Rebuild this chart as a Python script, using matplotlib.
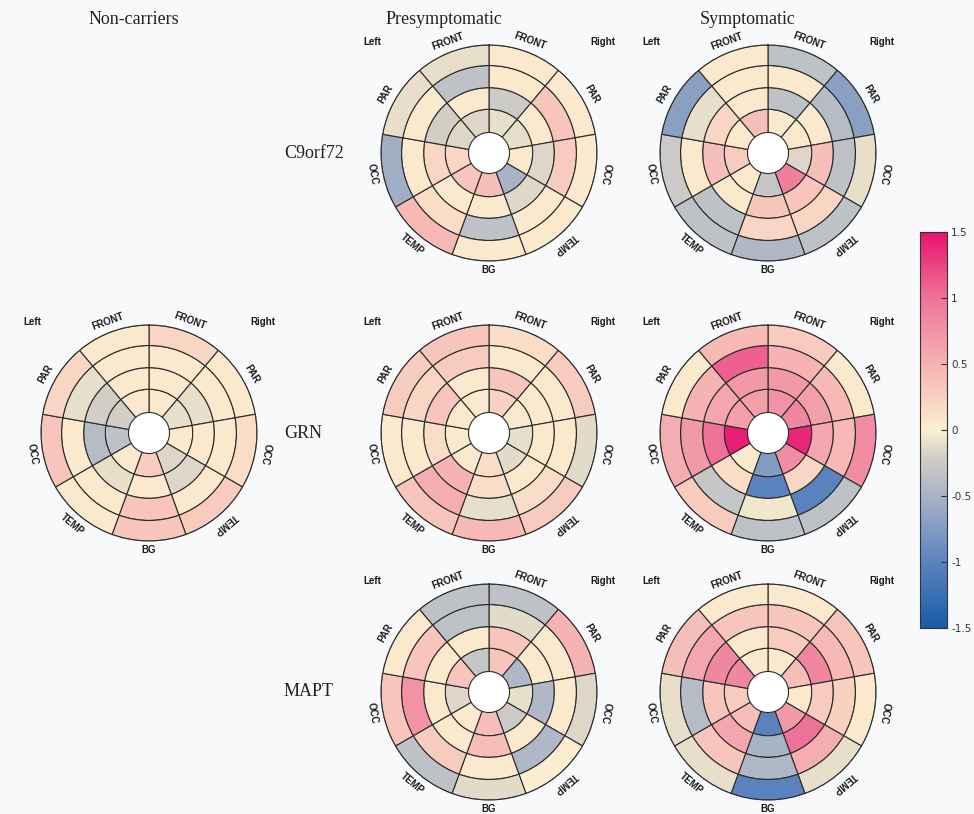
import numpy as np
import matplotlib
matplotlib.use('Agg')
from matplotlib import pyplot as plt
from matplotlib.colors import LinearSegmentedColormap, Normalize
from matplotlib.cm import ScalarMappable

# sectors clockwise from 12 o'clock; each row of a disc = values inner ring -> outer ring
sector_names = ['FRONT', 'PAR', 'OCC', 'TEMP', 'BG', 'TEMP', 'OCC', 'PAR', 'FRONT']
sector_ids = ['FRONT R', 'PAR R', 'OCC R', 'TEMP R', 'BG', 'TEMP L', 'OCC L', 'PAR L', 'FRONT L']

pre_c9 = [[-0.1, -0.25, 0.05, 0.05],
          [-0.1, 0.05, 0.35, 0.05],
          [0.05, -0.15, 0.3, 0.05],
          [-0.5, -0.15, 0.05, 0.05],
          [0.4, 0.05, -0.35, 0.05],
          [0.35, 0.05, 0.15, 0.45],
          [0.2, 0.2, 0.05, -0.55],
          [-0.15, -0.2, 0.05, -0.1],
          [-0.15, 0.05, -0.35, -0.1]]

sym_c9 = [[0.05, -0.35, 0.05, -0.35],
          [0.05, 0.05, -0.4, -0.7],
          [-0.15, 0.4, -0.35, -0.1],
          [0.9, 0.35, 0.2, -0.35],
          [-0.3, 0.35, 0.2, -0.45],
          [0.05, 0.05, -0.35, -0.35],
          [0.3, 0.4, 0.05, -0.25],
          [0.05, 0.2, -0.1, -0.7],
          [0.4, 0.05, 0.05, 0.05]]

nc_grn = [[0.05, 0.05, 0.05, 0.2],
          [-0.1, -0.1, 0.05, 0.05],
          [0.05, 0.05, 0.05, 0.15],
          [-0.15, -0.15, 0.05, 0.3],
          [0.3, 0.05, 0.35, 0.35],
          [0.05, -0.1, 0.05, 0.05],
          [-0.35, -0.4, 0.05, 0.35],
          [-0.2, -0.2, -0.1, 0.2],
          [0.05, 0.05, 0.05, 0.05]]

pre_grn = [[0.25, 0.35, 0.05, 0.15],
           [0.05, 0.05, 0.05, 0.3],
           [-0.1, 0.05, 0.05, -0.12],
           [-0.12, 0.05, 0.15, 0.3],
           [0.15, 0.15, -0.1, 0.45],
           [0.05, 0.5, 0.55, 0.35],
           [0.05, 0.15, 0.05, 0.05],
           [0.05, 0.35, 0.2, 0.3],
           [0.05, 0.05, 0.3, 0.35]]

sym_grn = [[0.75, 0.7, 0.5, 0.3],
           [0.85, 0.65, 0.45, 0.05],
           [1.4, 0.6, 0.45, 0.8],
           [0.8, 0.2, -1.0, -0.35],
           [-0.75, -1.0, -0.05, -0.35],
           [0.05, 0.15, -0.3, 0.3],
           [1.45, 1.0, 0.7, 0.55],
           [0.65, 0.6, 0.5, 0.05],
           [0.65, 0.7, 1.1, 0.45]]

pre_mapt = [[0.35, 0.35, -0.12, -0.35],
            [-0.45, 0.05, 0.05, 0.5],
            [-0.1, -0.45, 0.05, -0.15],
            [-0.25, 0.05, -0.45, 0.0],
            [0.4, 0.4, 0.05, -0.12],
            [0.05, 0.05, 0.3, -0.35],
            [-0.15, 0.05, 0.75, 0.35],
            [0.35, 0.05, 0.35, 0.05],
            [-0.3, 0.05, -0.35, -0.35]]

sym_mapt = [[0.05, 0.3, 0.35, 0.05],
            [0.4, 0.85, 0.45, 0.35],
            [0.05, 0.3, 0.25, 0.05],
            [0.7, 1.0, 0.55, -0.1],
            [-1.0, -0.5, -0.45, -1.0],
            [0.4, 0.6, 0.35, -0.1],
            [0.3, 0.35, -0.4, -0.1],
            [0.85, 0.85, 0.6, 0.4],
            [0.05, 0.05, 0.35, 0.05]]

col_titles = ['Non-carriers', 'Presymptomatic', 'Symptomatic']
row_titles = ['C9orf72', 'GRN', 'MAPT']
cbar_ticks = [-1.5, -1, -0.5, 0, 0.5, 1, 1.5]

# (row, col) -> disc
discs = {(0, 1): pre_c9, (0, 2): sym_c9,
         (1, 0): nc_grn, (1, 1): pre_grn, (1, 2): sym_grn,
         (2, 1): pre_mapt, (2, 2): sym_mapt}

W, H = 974, 814
col_x = [149, 489, 768]
row_y = [153, 433, 692]
R_PX = 108
ring_edges = [0.19, 0.405, 0.605, 0.81, 1.0]

cmap = LinearSegmentedColormap.from_list('bullseye', [
    (0.0, '#1a5ca8'),
    (0.5 / 3, '#5b83bd'),
    (1.0 / 3, '#a9b3c6'),
    (1.3 / 3, '#d3cfc6'),
    (0.5, '#fcefd0'),
    (2.0 / 3, '#f5b3b3'),
    (2.5 / 3, '#ee7398'),
    (1.0, '#e8146e')])
norm = Normalize(-1.5, 1.5)

fig = plt.figure(figsize=(W / 100, H / 100), dpi=100)
fig.patch.set_facecolor('#f8f9fb')

lab_font = dict(family=['Liberation Sans', 'DejaVu Sans'], weight='bold',
                fontsize=7, color='#1a1a1a')


def label_rotation(k):
    ang = 20 + 40 * k  # clockwise from top
    if ang == 180:
        return 0
    if ang < 180:
        return -ang
    phi = 360 - ang
    return phi if phi < 90 else phi - 180


for (r, c), vals in discs.items():
    cx, cy = col_x[c], row_y[r]
    ax = fig.add_axes([(cx - R_PX) / W, (H - cy - R_PX) / H, 2 * R_PX / W, 2 * R_PX / H],
                      projection='polar')
    ax.set_theta_zero_location('N')
    ax.set_theta_direction(-1)
    ax.patch.set_facecolor('white')
    vals = np.array(vals)
    for k in range(len(sector_ids)):
        theta = np.deg2rad(20 + 40 * k)
        for i in range(4):
            ax.bar(theta, ring_edges[i + 1] - ring_edges[i], width=np.deg2rad(40),
                   bottom=ring_edges[i], color=cmap(norm(vals[k, i])),
                   edgecolor='#2b2b2b', linewidth=0.8)
        rr = 1.085 if sector_names[k] == 'BG' else 1.1
        ax.text(theta, rr, sector_names[k], rotation=label_rotation(k),
                rotation_mode='anchor', ha='center', va='center', **lab_font)
    ax.set_ylim(0, 1)
    ax.set_xticks([])
    ax.set_yticks([])
    ax.grid(False)
    ax.spines['polar'].set_color('#2b2b2b')
    ax.spines['polar'].set_linewidth(0.8)
    ax.text(-0.042, 1.014, 'Left', transform=ax.transAxes, ha='center', va='center', **lab_font)
    ax.text(1.028, 1.014, 'Right', transform=ax.transAxes, ha='center', va='center', **lab_font)

serif = ['Liberation Serif', 'DejaVu Serif']
for x, t in zip([134, 444, 748], col_titles):
    fig.text(x / W, 1 - 20 / H, t, ha='center', va='center', family=serif,
             fontsize=13, color='#222222')
for y, t in zip(row_y, row_titles):
    fig.text(284 / W, 1 - y / H, t, ha='left', va='center', family=serif,
             fontsize=13, color='#222222')

cax = fig.add_axes([920 / W, (H - 628) / H, 27 / W, 396 / H])
cb = fig.colorbar(ScalarMappable(norm=norm, cmap=cmap), cax=cax, ticks=cbar_ticks)
cb.ax.set_yticklabels(['-1.5', '-1', '-0.5', '0', '0.5', '1', '1.5'])
cb.ax.tick_params(direction='in', length=4, width=0.8, color='#333333',
                  labelsize=7.5, labelcolor='#333333', pad=3)
cb.outline.set_edgecolor('#333333')
cb.outline.set_linewidth(0.8)

fig.savefig('out.png', dpi=100, facecolor=fig.get_facecolor())
